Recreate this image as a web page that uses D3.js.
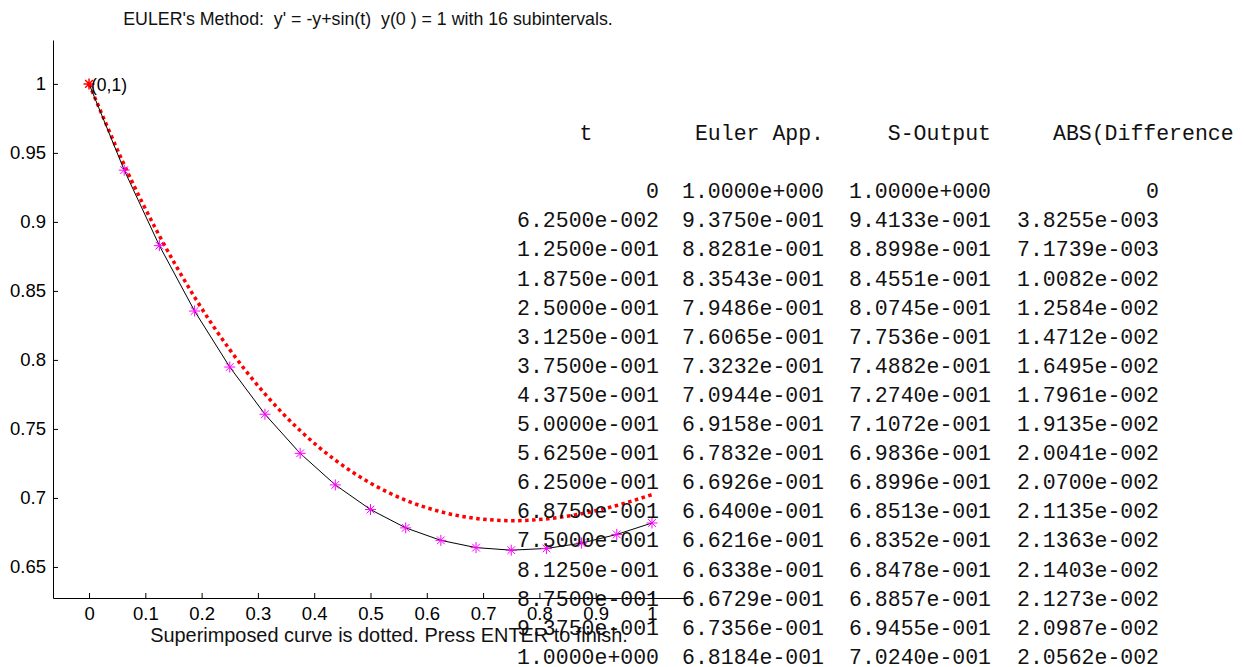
<!DOCTYPE html>
<html>
<head>
<meta charset="utf-8">
<script src="https://cdn.jsdelivr.net/npm/d3@7"></script>
<style>
  body { margin: 0; background: #fff; }
  svg { display: block; }
  text { white-space: pre; }
  .tick line { stroke: #000; }
  .domain { stroke: #000; }
</style>
</head>
<body>
<div></div>
<script>
var width = 1244,
    height = 667;

// t values, Euler approximation, exact (S-Output) and absolute difference
var tVals = [0, 0.0625, 0.125, 0.1875, 0.25, 0.3125, 0.375, 0.4375, 0.5,
    0.5625, 0.625, 0.6875, 0.75, 0.8125, 0.875, 0.9375, 1];
var eulerVals = [1, 0.93750, 0.88281, 0.83543, 0.79486, 0.76065, 0.73232, 0.70944,
    0.69158, 0.67832, 0.66926, 0.66400, 0.66216, 0.66338, 0.66729, 0.67356, 0.68184];
var sOutVals = [1, 0.94133, 0.88998, 0.84551, 0.80745, 0.77536, 0.74882, 0.72740,
    0.71072, 0.69836, 0.68996, 0.68513, 0.68352, 0.68478, 0.68857, 0.69455, 0.70240];
var diffVals = [0, 0.0038255, 0.0071739, 0.010082, 0.012584, 0.014712, 0.016495, 0.017961,
    0.019135, 0.020041, 0.020700, 0.021135, 0.021363, 0.021403, 0.021273, 0.020987, 0.020562];

var xTicks = [0, 0.1, 0.2, 0.3, 0.4, 0.5, 0.6, 0.7, 0.8, 0.9, 1];
var yTicks = [0.65, 0.7, 0.75, 0.8, 0.85, 0.9, 0.95, 1];
var headers = ["t", "Euler App.", "S-Output", "ABS(Difference"];

var titleText = "EULER's Method:  y' = -y+sin(t)  y(0 ) = 1 with 16 subintervals.";
var footText = "Superimposed curve is dotted. Press ENTER to finish.";

var svg = d3.select("div")
    .append("svg")
    .attr("width", width)
    .attr("height", height);

var x = d3.scaleLinear().domain([-0.064, 1.064]).range([53, 688]);
var y = d3.scaleLinear().domain([0.6275, 1.0318]).range([598, 40]);

var sansFont = "'Liberation Sans', Arial, sans-serif";
var monoFont = "'Liberation Mono', 'Courier New', monospace";

// axes (MATLAB style: ticks point inward, no box)
svg.append("g")
    .attr("transform", "translate(0,598)")
    .call(d3.axisBottom(x).tickValues(xTicks).tickSizeInner(-5).tickSizeOuter(0)
        .tickPadding(9).tickFormat(d3.format("~g")))
    .call(function (g) {
        g.selectAll("text").attr("font-family", sansFont).attr("font-size", 18.5).attr("fill", "#000");
    });

svg.append("g")
    .attr("transform", "translate(53,0)")
    .call(d3.axisLeft(y).tickValues(yTicks).tickSizeInner(-5).tickSizeOuter(0)
        .tickPadding(7).tickFormat(d3.format("~g")))
    .call(function (g) {
        g.selectAll("text").attr("font-family", sansFont).attr("font-size", 18.5).attr("fill", "#000");
    });

// exact solution, dotted red
var exactLine = d3.line()
    .x(function (d, i) { return x(tVals[i]); })
    .y(function (d) { return y(d); })
    .curve(d3.curveNatural);

svg.append("path")
    .datum(sOutVals)
    .attr("fill", "none")
    .attr("stroke", "#ff0000")
    .attr("stroke-width", 3.5)
    .attr("stroke-dasharray", "3.5,3.5")
    .attr("d", exactLine);

// Euler approximation, black line
var eulerLine = d3.line()
    .x(function (d, i) { return x(tVals[i]); })
    .y(function (d) { return y(d); });

svg.append("path")
    .datum(eulerVals)
    .attr("fill", "none")
    .attr("stroke", "#000")
    .attr("stroke-width", 1)
    .attr("d", eulerLine);

// asterisk markers
var r = 5.5;
var starPath = "M" + (-r) + ",0H" + r + "M0," + (-r) + "V" + r +
    "M" + (-r * 0.7) + "," + (-r * 0.7) + "L" + (r * 0.7) + "," + (r * 0.7) +
    "M" + (-r * 0.7) + "," + (r * 0.7) + "L" + (r * 0.7) + "," + (-r * 0.7);

svg.append("g")
    .selectAll("path")
    .data(eulerVals)
    .enter().append("path")
    .attr("transform", function (d, i) {
        return "translate(" + x(tVals[i]) + "," + y(d) + ")";
    })
    .attr("fill", "none")
    .attr("stroke", function (d, i) { return i === 0 ? "#ff0000" : "#ff00ff"; })
    .attr("stroke-width", function (d, i) { return i === 0 ? 1.5 : 1; })
    .attr("d", starPath);

svg.append("text")
    .attr("x", x(tVals[0]) + 2)
    .attr("y", y(eulerVals[0]) + 7)
    .attr("font-family", sansFont)
    .attr("font-size", 17.5)
    .text("(0,1)");

// title and footer
svg.append("text")
    .attr("x", 368)
    .attr("y", 25)
    .attr("text-anchor", "middle")
    .attr("font-family", sansFont)
    .attr("font-size", 17.8)
    .attr("fill", "#111")
    .text(titleText);

svg.append("text")
    .attr("x", 389)
    .attr("y", 642)
    .attr("text-anchor", "middle")
    .attr("font-family", sansFont)
    .attr("font-size", 19.9)
    .attr("fill", "#111")
    .text(footText);

// table of values printed over the figure
function fmtE(v) {
    if (v === 0) return "0";
    var e = Math.floor(Math.log10(Math.abs(v)) + 1e-12);
    var m = v / Math.pow(10, e);
    if (Math.abs(m) >= 9.99995) { m /= 10; e += 1; }
    var sign = e < 0 ? "-" : "+";
    var ae = String(Math.abs(e));
    while (ae.length < 3) ae = "0" + ae;
    return m.toFixed(4) + "e" + sign + ae;
}

var colRight = [659, 824, 991, 1159];
var rowY = d3.scaleLinear().domain([0, 1]).range([140, 169.1]);

var table = svg.append("g")
    .attr("font-family", monoFont)
    .attr("font-size", 21.5)
    .attr("fill", "#111");

table.selectAll("text.head")
    .data(headers)
    .enter().append("text")
    .attr("class", "head")
    .attr("x", function (d, i) { return i === 0 ? 586 : i === 3 ? 1053 : colRight[i]; })
    .attr("y", rowY(0))
    .attr("text-anchor", function (d, i) { return i === 0 ? "middle" : i === 3 ? "start" : "end"; })
    .text(function (d) { return d; });

var rows = tVals.map(function (t, i) {
    return [t, eulerVals[i], sOutVals[i], diffVals[i]];
});

table.selectAll("g.row")
    .data(rows)
    .enter().append("g")
    .attr("class", "row")
    .each(function (row, i) {
        d3.select(this).selectAll("text")
            .data(row)
            .enter().append("text")
            .attr("x", function (d, j) { return colRight[j]; })
            .attr("y", rowY(i + 2))
            .attr("text-anchor", "end")
            .text(function (d) { return fmtE(d); });
    });
</script>
</body>
</html>
